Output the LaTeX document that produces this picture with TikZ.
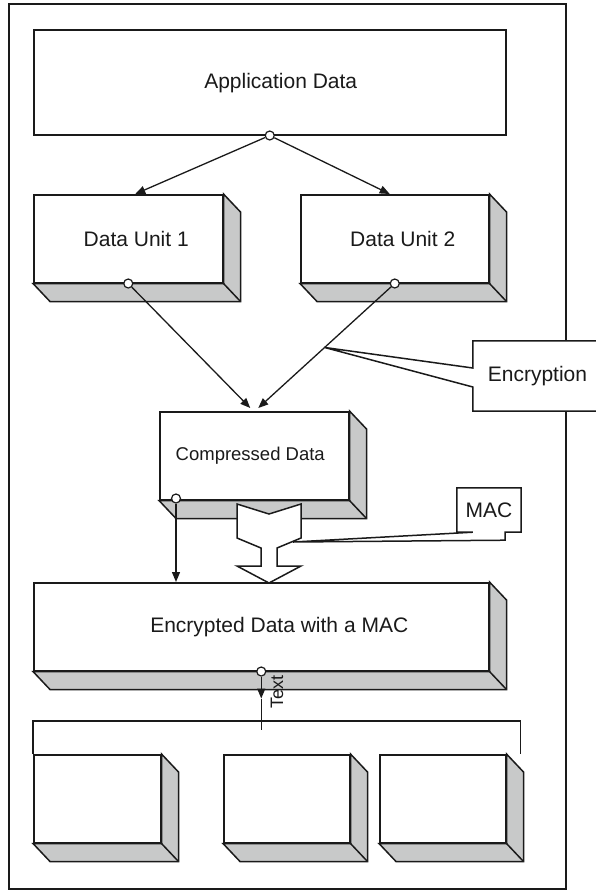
\documentclass[tikz,border=0pt]{standalone}
\usepackage{fontspec}
\setmainfont{Liberation Sans}
\usepackage{tikz}
\usetikzlibrary{arrows.meta, positioning}
\definecolor{slabgray}{HTML}{C8C9C9}
\definecolor{inkgray}{HTML}{1A1A1A}

% shaded bottom and right faces of a slab node
\newcommand{\slabdepth}[1]{%
  \filldraw[depthface] (#1.north east) -- ++(17,18) -- ([shift={(17,18)}]#1.south east)
    -- ([shift={(17,18)}]#1.south west) -- (#1.south west) -- (#1.south east) -- cycle;
  \draw[depthface] (#1.south east) -- ++(17,18);}

\begin{document}
\begin{tikzpicture}[x=1pt, y=-1pt,
  every node/.style={font=\fontsize{21}{25}\selectfont, text=inkgray},
  slab/.style={draw=inkgray, line width=1.5pt, fill=white, inner sep=0pt, anchor=north west},
  depthface/.style={draw=inkgray, line width=1.5pt, fill=slabgray},
  port/.style={circle, draw=inkgray, fill=white, inner sep=0pt, minimum size=9pt, line width=1.2pt},
  flow/.style={draw=inkgray, line width=1.3pt, -{Triangle[length=10pt,width=8pt]}},
  outline/.style={draw=inkgray, fill=white, line width=1.5pt},
  lbl/.style={inner sep=0pt}]
\useasboundingbox (0,0) rectangle (595,894);
\draw[draw=inkgray, line width=1.4pt] (9,4) rectangle (566,889);

% application data and the two units
\node[slab, minimum width=472pt, minimum height=105pt,
  label={[lbl, xshift=11pt, yshift=-1pt]center:Application Data}] (appdata) at (33,29) {};
\node[port] (apport) at (appdata.south) {};
\node[slab, minimum width=189pt, minimum height=88pt,
  label={[lbl, xshift=8pt]center:Data Unit 1}] (unitone) at (33,194) {};
\slabdepth{unitone}
\node[slab, minimum width=188pt, minimum height=88pt,
  label={[lbl, xshift=8pt]center:Data Unit 2}] (unittwo) at (300,194) {};
\slabdepth{unittwo}
\draw[flow] (apport) -- ([xshift=7pt]unitone.north);
\draw[flow] (apport) -- ([xshift=-5pt]unittwo.north);
\node[port] (oneport) at (unitone.south) {};
\node[port] (twoport) at (unittwo.south) {};

% compression
\node[slab, minimum width=189pt, minimum height=88pt,
  label={[lbl, xshift=-4pt, font=\fontsize{18.5}{22}\selectfont]center:Compressed Data}] (compressed) at (159,411) {};
\slabdepth{compressed}
\draw[flow] (oneport) -- ([shift={(-4,-3)}]compressed.north);
\draw[flow] (twoport) -- coordinate[pos=0.5] (enctip) ([shift={(4,-3)}]compressed.north);
\node[minimum width=132pt, minimum height=70pt, inner sep=0pt] (encryption) at (539,376) {};
\filldraw[outline] (encryption.north west) -- (encryption.north east) -- (encryption.south east)
  -- (encryption.south west) -- ([yshift=-11pt]encryption.west) -- (enctip)
  -- ([yshift=8pt]encryption.west) -- cycle;
\node[lbl] (enctext) at (537.5,376) {Encryption};
\node[port] (cport) at ([shift={(17,-2)}]compressed.south west) {};

% encrypted data
\node[slab, minimum width=455pt, minimum height=88pt,
  label={[lbl, xshift=18pt]center:Encrypted Data with a MAC}] (encmac) at (33,582) {};
\slabdepth{encmac}
\draw[flow] (cport) -- (cport |- encmac.north);
\filldraw[outline] (237,504) -- (269,514) -- (301,504) -- (301,538)
  -- (277,548) -- (277,566) -- (301,566) -- (269,583) -- (237,566) -- (261,566)
  -- (261,548) -- (237,538) -- cycle;
\coordinate (mactip) at (293,542);
\node[minimum width=64pt, minimum height=44pt, inner sep=0pt] (mac) at (489,510) {};
\filldraw[outline] (mac.north west) -- (mac.north east) -- (mac.south east)
  -- ([xshift=-16pt]mac.south east) -- ([shift={(-16,8)}]mac.south east) -- (mactip)
  -- ([xshift=16pt]mac.south west) -- (mac.south west) -- cycle;
\node[lbl] (mactext) at (mac) {MAC};
\node[port] (encport) at (encmac.south) {};

% output units
\node[slab, minimum width=127pt, minimum height=88pt] (outone) at (33,754) {};
\slabdepth{outone}
\node[slab, minimum width=126pt, minimum height=88pt] (outtwo) at (223,754) {};
\slabdepth{outtwo}
\node[slab, minimum width=126pt, minimum height=88pt] (outthree) at (379,754) {};
\slabdepth{outthree}
\draw[draw=inkgray, line width=1.3pt] (outone.north west) -- ++(0,-33) -| ([xshift=14pt]outthree.north east);
\path (encport |- outone.north) ++(0,-24) coordinate (busdrop);
\draw[flow] (encport) -- ++(0,27) coordinate (textmark);
\draw[draw=inkgray, line width=1.3pt] (textmark) -- (busdrop);
\node[lbl, rotate=90, font=\fontsize{18}{21}\selectfont] (textlbl) at (277,692) {Text};
\end{tikzpicture}
\end{document}
